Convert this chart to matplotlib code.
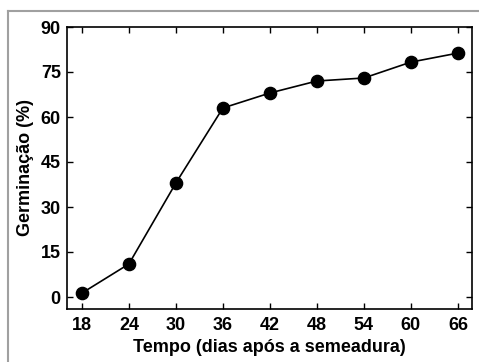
import matplotlib
matplotlib.use("Agg")
import matplotlib.pyplot as plt
from matplotlib.lines import Line2D

days = [18, 24, 30, 36, 42, 48, 54, 60, 66]
germination = [1.3, 11, 38, 63, 68, 72, 73, 78.3, 81.3]
yticks = [0, 15, 30, 45, 60, 75, 90]

plt.rcParams['font.family'] = ['Liberation Sans', 'DejaVu Sans']
plt.rcParams['font.weight'] = 'bold'

W, H = 479, 362
fig = plt.figure(figsize=(W / 100, H / 100), dpi=100)
ax = fig.add_axes([67 / W, 1 - 309 / H, (472 - 67) / W, (309 - 27) / H])

ax.plot(days, germination, color='black', lw=1.2, marker='o', ms=8.8,
        markerfacecolor='black', markeredgecolor='black')

ax.set_xlim(16.1, 67.8)
ax.set_ylim(-4, 90)
ax.set_xticks(days)
ax.set_yticks(yticks)
ax.tick_params(direction='in', length=4, width=1, top=True, right=True,
               labelsize=13)
ax.tick_params(axis='x', pad=6)
ax.tick_params(axis='y', pad=4.5)
for lab in ax.get_xticklabels() + ax.get_yticklabels():
    lab.set_fontweight('bold')
for s in ax.spines.values():
    s.set_linewidth(1.2)

ax.set_xlabel('Tempo (dias após a semeadura)', fontsize=13, fontweight='bold', labelpad=3)
ax.set_ylabel('Germinação (%)', fontsize=13, fontweight='bold', labelpad=5)

# outer light gray frame (left and top edges)
fig.add_artist(Line2D([8 / W, 8 / W], [0, 1 - 11 / H], transform=fig.transFigure,
                      color='#a0a0a0', lw=1.5))
fig.add_artist(Line2D([8 / W, 1], [1 - 11 / H, 1 - 11 / H], transform=fig.transFigure,
                      color='#a0a0a0', lw=1.5))

fig.savefig('out.png', dpi=100)
